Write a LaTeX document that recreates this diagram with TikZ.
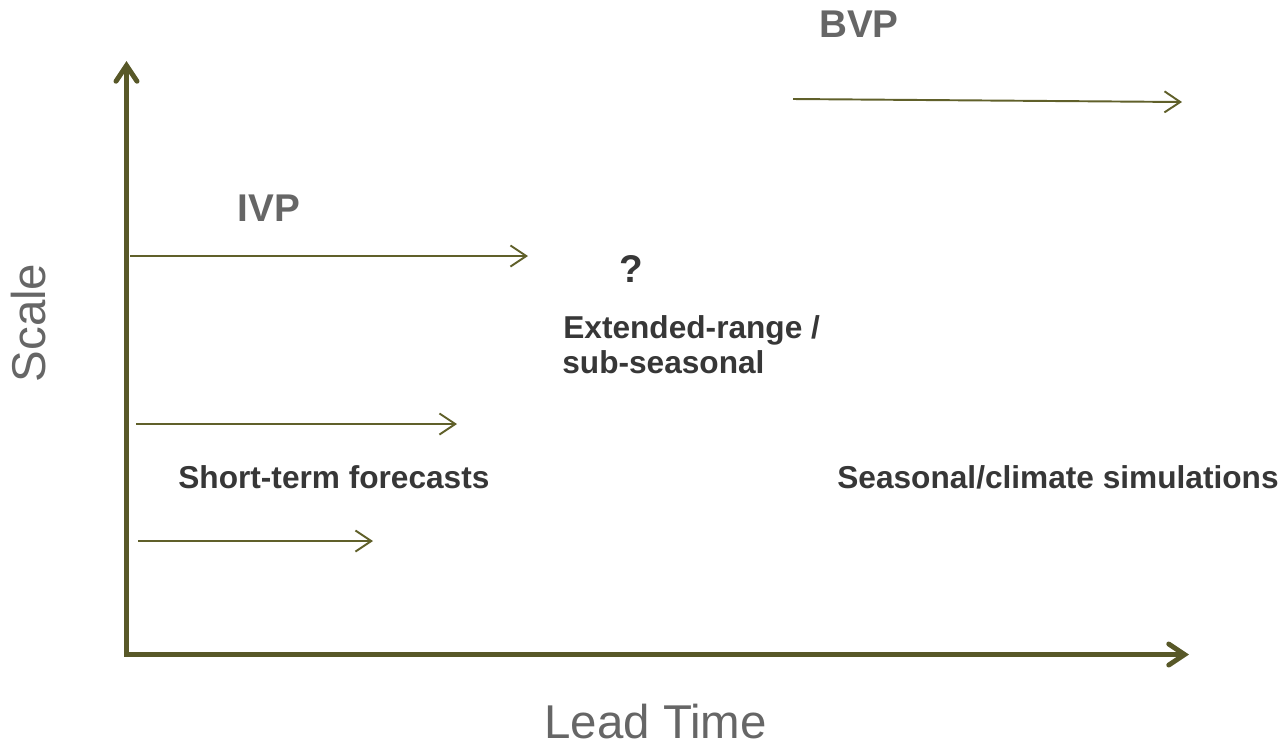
\documentclass[tikz,border=0pt]{standalone}
\usepackage{fontspec}
\setmainfont{Liberation Sans}
\usetikzlibrary{arrows.meta}
\definecolor{axisolive}{RGB}{88,88,40}
\definecolor{arrowolive}{RGB}{96,96,42}
\definecolor{titlegray}{RGB}{102,102,102}
\definecolor{textdark}{RGB}{55,55,55}

\begin{document}
\begin{tikzpicture}[x=0.2mm, y=-0.2mm,
    axis/.style={line width=2.8pt, axisolive, line join=miter,
        {Straight Barb[length=9pt, width=12pt, line cap=round]}-{Straight Barb[length=9pt, width=12pt, line cap=round]}},
    span/.style={line width=1.1pt, arrowolive, -{Straight Barb[length=9pt, width=12pt]}},
    lbl/.style={inner sep=0pt, anchor=base west, font=\bfseries\fontsize{18}{20}\selectfont, text=textdark},
    head/.style={inner sep=0pt, font=\bfseries\fontsize{22}{24}\selectfont, text=titlegray},
    axlbl/.style={inner sep=0pt, text depth=0pt, font=\fontsize{27}{30}\selectfont, text=titlegray}]
    \useasboundingbox (0,0) rectangle (1287,745);
    \coordinate (O) at (126.5,654.5);
    \coordinate (X) at (1189,654.5);
    \coordinate (Y) at (126.5,61);

    \coordinate (A1) at (130,256);
    \coordinate (A2) at (528,256);
    \coordinate (B1) at (136,424);
    \coordinate (B2) at (457,424);
    \coordinate (C1) at (138,541);
    \coordinate (C2) at (373,541);
    \coordinate (D1) at (793,99);
    \coordinate (D2) at (1182,102);

    % axes
    \draw [axis] (Y)--(O)--(X);
    \foreach \s/\e in
    {A1/A2,B1/B2,C1/C2,D1/D2}
    {
        \draw [span] (\s)--(\e);
    };

    \node[head] (bvp) at (859,24) {BVP};
    \node[head] (ivp) at (269,208.5) {IVP};
    \node[head, text=textdark] (q) at (631,269) {?};
    \node[lbl] (ext) at (563,338) {Extended-range /};
    \node[lbl] (sub) at (562,373) {sub-seasonal};
    \node[lbl] (short) at (178,488) {Short-term forecasts};
    \node[lbl] (seas) at (837,488) {Seasonal/climate simulations};
    \node[axlbl, anchor=base west] (lead) at (544,738) {Lead Time};
    \node[axlbl, rotate=90, anchor=base] (scale) at (45,323) {Scale};
\end{tikzpicture}
\end{document}
